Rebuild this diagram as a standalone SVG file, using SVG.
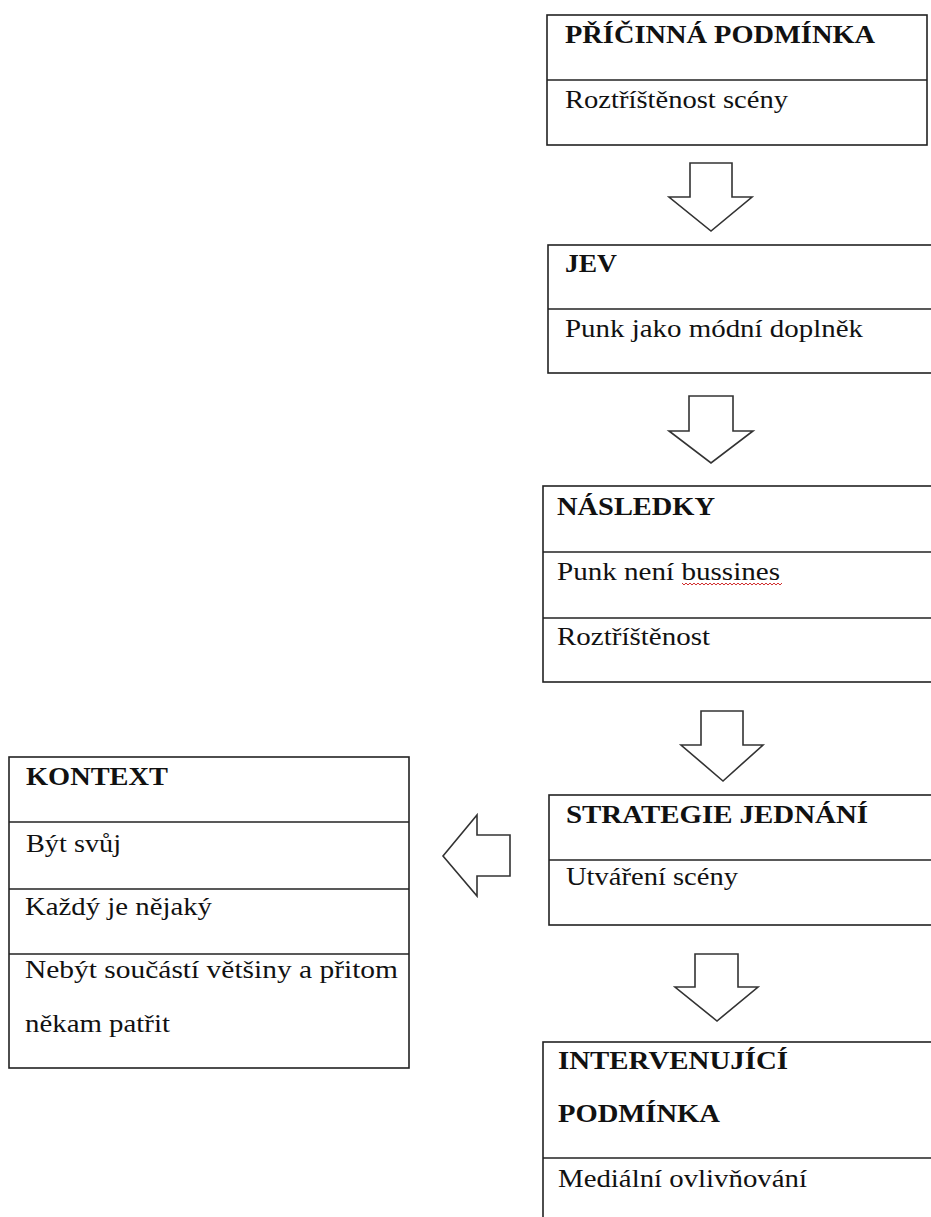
<svg xmlns="http://www.w3.org/2000/svg" width="931" height="1217" viewBox="0 0 931 1217">
<style>
.box{fill:#fff;stroke:#222;stroke-width:1.6}
.div{stroke:#222;stroke-width:1.6}
.arr{fill:#fff;stroke:#333;stroke-width:1.6;stroke-linejoin:miter}
text{font-family:"Liberation Serif","Times New Roman",serif;font-size:26px;fill:#111}
.t{font-weight:bold}
.sp{fill:none;stroke:#d23030;stroke-width:1}
</style>
<rect width="931" height="1217" fill="#fff"/>
<g id="connectors">
<polygon class="arr" points="690,163 732,163 732,197 752,197 711,231 669,197 690,197"/>
<polygon class="arr" points="689,396 733,396 733,431 753,431 711,463 669,431 689,431"/>
<polygon class="arr" points="701,711 743,711 743,745 763,745 723,781 681,745 701,745"/>
<polygon class="arr" points="695,954 738,954 738,987 758,987 717,1021 675,987 695,987"/>
<polygon class="arr" points="510,835 510,876 477,876 477,896 443,856 477,815 477,835"/>
</g>
<g id="pricinna">
<rect class="box" x="547" y="15" width="380" height="130"/>
<line class="div" x1="547" y1="80" x2="927" y2="80"/>
<text class="t" x="565" y="43" textLength="310" lengthAdjust="spacingAndGlyphs">PŘÍČINNÁ PODMÍNKA</text>
<text x="565" y="108" textLength="223" lengthAdjust="spacingAndGlyphs">Roztříštěnost scény</text>
</g>
<g id="jev">
<rect class="box" x="548" y="245" width="400" height="128"/>
<line class="div" x1="548" y1="309" x2="948" y2="309"/>
<text class="t" x="565" y="272" textLength="52" lengthAdjust="spacingAndGlyphs">JEV</text>
<text x="565" y="337" textLength="298" lengthAdjust="spacingAndGlyphs">Punk jako módní doplněk</text>
</g>
<g id="nasledky">
<rect class="box" x="543" y="486" width="405" height="196"/>
<line class="div" x1="543" y1="552" x2="948" y2="552"/>
<line class="div" x1="543" y1="618" x2="948" y2="618"/>
<text class="t" x="557" y="515" textLength="158" lengthAdjust="spacingAndGlyphs">NÁSLEDKY</text>
<text x="557" y="580" textLength="223" lengthAdjust="spacingAndGlyphs">Punk není bussines</text>
<path class="sp" d="M682 583 l2 2 l2 -2 l2 2 l2 -2 l2 2 l2 -2 l2 2 l2 -2 l2 2 l2 -2 l2 2 l2 -2 l2 2 l2 -2 l2 2 l2 -2 l2 2 l2 -2 l2 2 l2 -2 l2 2 l2 -2 l2 2 l2 -2 l2 2 l2 -2 l2 2 l2 -2 l2 2 l2 -2 l2 2 l2 -2 l2 2 l2 -2 l2 2 l2 -2 l2 2 l2 -2 l2 2 l2 -2 l2 2 l2 -2 l2 2 l2 -2 l2 2 l2 -2 l2 2 l2 -2 l2 2 l2 -2"/>
<text x="557" y="645" textLength="153" lengthAdjust="spacingAndGlyphs">Roztříštěnost</text>
</g>
<g id="strategie">
<rect class="box" x="549" y="795" width="400" height="130"/>
<line class="div" x1="549" y1="860" x2="949" y2="860"/>
<text class="t" x="566" y="823" textLength="302" lengthAdjust="spacingAndGlyphs">STRATEGIE JEDNÁNÍ</text>
<text x="566" y="885" textLength="172" lengthAdjust="spacingAndGlyphs">Utváření scény</text>
</g>
<g id="intervenujici">
<rect class="box" x="543" y="1042" width="405" height="200"/>
<line class="div" x1="543" y1="1158" x2="948" y2="1158"/>
<text class="t" x="558" y="1069" textLength="230" lengthAdjust="spacingAndGlyphs">INTERVENUJÍCÍ</text>
<text class="t" x="558" y="1122" textLength="162" lengthAdjust="spacingAndGlyphs">PODMÍNKA</text>
<text x="558" y="1187" textLength="249" lengthAdjust="spacingAndGlyphs">Mediální ovlivňování</text>
</g>
<g id="kontext">
<rect class="box" x="9" y="757" width="400" height="311"/>
<line class="div" x1="9" y1="822" x2="409" y2="822"/>
<line class="div" x1="9" y1="889" x2="409" y2="889"/>
<line class="div" x1="9" y1="954" x2="409" y2="954"/>
<text class="t" x="26" y="785" textLength="142" lengthAdjust="spacingAndGlyphs">KONTEXT</text>
<text x="26" y="852" textLength="95" lengthAdjust="spacingAndGlyphs">Být svůj</text>
<text x="25" y="915" textLength="187" lengthAdjust="spacingAndGlyphs">Každý je nějaký</text>
<text x="25" y="978" textLength="373" lengthAdjust="spacingAndGlyphs">Nebýt součástí většiny a přitom</text>
<text x="25" y="1032" textLength="145" lengthAdjust="spacingAndGlyphs">někam patřit</text>
</g>
</svg>
